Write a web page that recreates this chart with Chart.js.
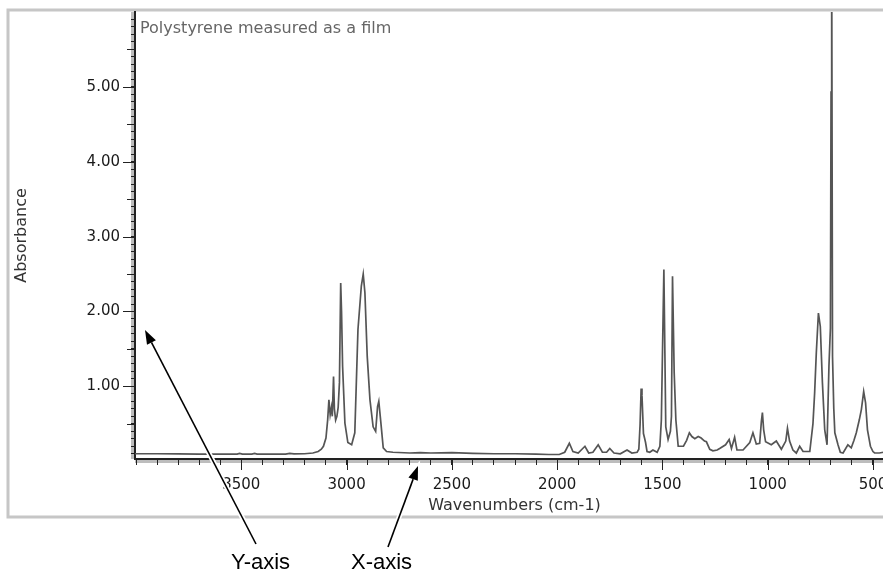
<!DOCTYPE html>
<html>
<head>
<meta charset="utf-8">
<title>Polystyrene IR spectrum</title>
<script src="https://cdn.jsdelivr.net/npm/chart.js@4.4.1/dist/chart.umd.min.js"></script>
<style>
  html, body { margin: 0; padding: 0; background: #fff; overflow: hidden; }
  #wrap { position: relative; width: 900px; height: 572px; }
</style>
</head>
<body>
<div id="wrap"><canvas id="spectrum"></canvas></div>
<script>
// spectrum (wavenumber in cm-1, absorbance)
const wavenumbers = [
  4005, 3900, 3800, 3700, 3600, 3520, 3508, 3495, 3450, 3437, 3425, 3350, 3290, 3270, 3250, 3200,
  3160, 3135, 3120, 3110, 3098, 3090, 3084, 3078, 3072, 3068, 3062, 3058, 3052, 3046, 3040, 3034,
  3028, 3024, 3019, 3008, 2994, 2976, 2961, 2946, 2930, 2921, 2913, 2902, 2889, 2874, 2862, 2853,
  2847, 2837, 2826, 2810, 2780, 2700, 2650, 2600, 2500, 2400, 2300, 2200, 2100, 2040, 1990, 1964,
  1942, 1925, 1900, 1868, 1850, 1830, 1805, 1785, 1765, 1750, 1730, 1700, 1668, 1645, 1620, 1612,
  1606, 1601, 1597, 1590, 1584, 1580, 1573, 1560, 1545, 1525, 1512, 1505, 1493, 1484, 1473, 1462,
  1457, 1452, 1444, 1436, 1425, 1400, 1385, 1372, 1360, 1346, 1330, 1316, 1300, 1291, 1275, 1260,
  1240, 1228, 1200, 1183, 1172, 1157, 1146, 1117, 1085, 1070, 1054, 1038, 1030, 1025, 1019, 1010,
  983, 959, 935, 914, 906, 896, 880, 864, 848, 832, 800, 785, 777, 769, 759, 750,
  740, 729, 718, 709, 702, 699, 696, 692, 686, 681, 666, 655, 642, 619, 603, 590,
  579, 565, 555, 544, 535, 526, 512, 500, 492, 470, 450, 420, 400
];
const absorbance = [
  0.10, 0.10, 0.098, 0.095, 0.095, 0.095, 0.105, 0.095, 0.095, 0.105, 0.095, 0.095, 0.095, 0.105, 0.098, 0.10,
  0.11, 0.13, 0.16, 0.20, 0.31, 0.55, 0.82, 0.62, 0.72, 0.60, 1.13, 0.70, 0.55, 0.60, 0.72, 1.05,
  2.38, 2.00, 1.27, 0.51, 0.25, 0.22, 0.38, 1.76, 2.34, 2.50, 2.25, 1.40, 0.82, 0.46, 0.40, 0.73,
  0.80, 0.51, 0.18, 0.13, 0.12, 0.11, 0.115, 0.11, 0.115, 0.105, 0.10, 0.10, 0.095, 0.09, 0.09, 0.12,
  0.24, 0.13, 0.11, 0.20, 0.11, 0.12, 0.22, 0.12, 0.12, 0.17, 0.11, 0.10, 0.15, 0.11, 0.12, 0.16,
  0.49, 0.97, 0.88, 0.37, 0.30, 0.25, 0.13, 0.12, 0.15, 0.12, 0.20, 0.55, 2.56, 0.46, 0.29, 0.40,
  0.60, 2.47, 1.18, 0.55, 0.20, 0.20, 0.28, 0.38, 0.33, 0.30, 0.33, 0.31, 0.27, 0.26, 0.16, 0.14,
  0.15, 0.17, 0.22, 0.29, 0.17, 0.32, 0.15, 0.15, 0.25, 0.38, 0.23, 0.24, 0.53, 0.65, 0.42, 0.26,
  0.22, 0.27, 0.16, 0.27, 0.44, 0.27, 0.15, 0.11, 0.20, 0.13, 0.13, 0.50, 0.91, 1.45, 1.98, 1.80,
  1.05, 0.42, 0.22, 1.27, 1.78, 4.93, 6.90, 1.40, 0.70, 0.38, 0.22, 0.12, 0.11, 0.22, 0.18, 0.28,
  0.38, 0.55, 0.69, 0.93, 0.78, 0.42, 0.20, 0.13, 0.11, 0.11, 0.12, 0.12, 0.12
];

const xTickLabels = [3500, 3000, 2500, 2000, 1500, 1000, 500];
const yTickLabels = [1, 2, 3, 4, 5];
const chartNote = "Polystyrene measured as a film";

const tickFont = { family: "DejaVu Sans", size: 15 };
const titleFont = { family: "DejaVu Sans", size: 16 };

// frame, axis shading, long ticks, note and the two callouts
const decorations = {
  id: "decorations",
  beforeDraw(chart) {
    const ctx = chart.ctx;
    const a = chart.chartArea;
    ctx.save();
    ctx.strokeStyle = "#c6c6c6";
    ctx.lineWidth = 3;
    ctx.beginPath();
    ctx.moveTo(chart.width, 10);
    ctx.lineTo(8, 10);
    ctx.lineTo(8, 517);
    ctx.lineTo(chart.width, 517);
    ctx.stroke();
    ctx.fillStyle = "#bdbdbd";
    ctx.fillRect(a.left - 4, a.top, 3, a.bottom - a.top);
    ctx.fillRect(a.left, a.bottom + 1, a.right - a.left, 3);
    ctx.restore();
  },
  afterDraw(chart) {
    const ctx = chart.ctx;
    const a = chart.chartArea;
    const xs = chart.scales.x, ys = chart.scales.y;
    ctx.save();
    ctx.strokeStyle = "#222";
    ctx.lineWidth = 1;
    ctx.beginPath();
    xTickLabels.forEach(v => {
      const px = Math.round(xs.getPixelForValue(v)) + 0.5;
      ctx.moveTo(px, a.bottom);
      ctx.lineTo(px, a.bottom + 11);
    });
    for (let k = 1; k <= 11; k++) {
      const v = k / 2;
      const py = Math.round(ys.getPixelForValue(v)) + 0.5;
      const len = Number.isInteger(v) ? 12 : 8;
      ctx.moveTo(a.left, py);
      ctx.lineTo(a.left - len, py);
    }
    ctx.stroke();

    ctx.fillStyle = "#666";
    ctx.font = "16px 'DejaVu Sans'";
    ctx.textBaseline = "alphabetic";
    ctx.fillText(chartNote, a.left + 5, 33);

    const arrow = (x0, y0, x1, y1) => {
      const ang = Math.atan2(y1 - y0, x1 - x0);
      const hl = 14, hw = 5;
      const bx = x1 - hl * Math.cos(ang), by = y1 - hl * Math.sin(ang);
      const head = () => {
        ctx.beginPath();
        ctx.moveTo(x1, y1);
        ctx.lineTo(bx + hw * Math.sin(ang), by - hw * Math.cos(ang));
        ctx.lineTo(bx - hw * Math.sin(ang), by + hw * Math.cos(ang));
        ctx.closePath();
      };
      ctx.strokeStyle = "#fff";
      ctx.lineWidth = 5;
      ctx.beginPath(); ctx.moveTo(x0, y0); ctx.lineTo(bx, by); ctx.stroke();
      head(); ctx.lineWidth = 4; ctx.stroke();
      ctx.strokeStyle = "#000";
      ctx.lineWidth = 1.6;
      ctx.beginPath(); ctx.moveTo(x0, y0); ctx.lineTo(bx, by); ctx.stroke();
      ctx.fillStyle = "#000";
      head(); ctx.fill();
    };
    arrow(256, 544, 145, 330);
    arrow(388, 547, 418, 466);

    ctx.fillStyle = "#000";
    ctx.font = "22px 'Liberation Sans'";
    ctx.fillText("Y-axis", 231, 569);
    ctx.fillText("X-axis", 351, 569);
    ctx.restore();
  }
};

new Chart(document.getElementById("spectrum"), {
  type: "line",
  data: {
    datasets: [{
      data: wavenumbers.map((w, i) => ({ x: w, y: absorbance[i] })),
      borderColor: "#555",
      borderWidth: 1.7,
      pointRadius: 0,
      tension: 0,
      fill: false
    }]
  },
  options: {
    responsive: true,
    maintainAspectRatio: false,
    animation: false,
    events: [],
    layout: { padding: { top: 12, left: 0, right: 6, bottom: 55 } },
    plugins: { legend: { display: false }, tooltip: { enabled: false } },
    scales: {
      x: {
        type: "linear",
        reverse: true,
        min: 400,
        max: 4005,
        afterFit: s => { s.height = 58; s.paddingLeft = 0; s.paddingRight = 0; },
        afterBuildTicks: s => {
          const t = [];
          for (let v = 400; v <= 4000; v += 100) t.push({ value: v });
          s.ticks = t;
        },
        ticks: {
          autoSkip: false,
          maxRotation: 0,
          padding: 11,
          color: "#1a1a1a",
          font: tickFont,
          callback: v => xTickLabels.includes(v) ? String(v) : ""
        },
        grid: { drawOnChartArea: false, drawTicks: true, tickLength: 6, tickColor: "#222", tickWidth: 1 },
        border: { display: true, color: "#222", width: 2 },
        title: { display: true, text: "Wavenumbers (cm-1)", color: "#333", font: titleFont, padding: { top: 0, bottom: 2 } }
      },
      y: {
        type: "linear",
        min: 0.03,
        max: 6.0,
        afterFit: s => { s.width = 135; s.paddingTop = 0; s.paddingBottom = 0; },
        afterBuildTicks: s => {
          const t = [];
          for (let k = 1; k <= 59; k++) t.push({ value: k / 10 });
          s.ticks = t;
        },
        ticks: {
          autoSkip: false,
          padding: 11,
          color: "#1a1a1a",
          font: tickFont,
          callback: v => yTickLabels.includes(v) ? v.toFixed(2) : ""
        },
        grid: { drawOnChartArea: false, drawTicks: true, tickLength: 4, tickColor: "#222", tickWidth: 1 },
        border: { display: true, color: "#222", width: 2 },
        title: { display: true, text: "Absorbance", color: "#333", font: titleFont, padding: { top: 12, bottom: 0 } }
      }
    }
  },
  plugins: [decorations]
});
</script>
</body>
</html>
